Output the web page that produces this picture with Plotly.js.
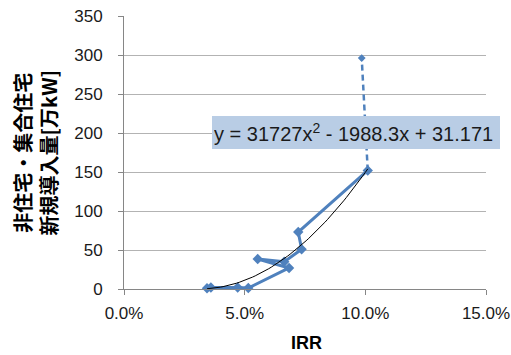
<!DOCTYPE html>
<html>
<head>
<meta charset="utf-8">
<script src="https://cdn.plot.ly/plotly-3.0.1.min.js"></script>
<style>html,body{margin:0;padding:0;background:#fff;}#chart{width:511px;height:355px;}</style>
</head>
<body>
<div id="chart"></div>
<script>
// IRR (x) and new installed capacity [万kW] (y)
const irr = [0.0344, 0.0360, 0.0471, 0.0515, 0.0684, 0.0554, 0.0664, 0.0736, 0.0722, 0.1010];
const capacity = [1, 2, 2, 1.3, 27, 38.5, 35, 51, 73, 152];
// dashed extension
const irrExt = [0.1010, 0.0985];
const capacityExt = [152, 296];
// trendline coefficients shown on the chart: y = a x^2 + b x + c
const trendCoef = [31727, -1988.3, 31.171];
const trendLabel = 'y = 31727x<sup>2</sup> - 1988.3x + 31.171';
const xTickVals = [0, 0.05, 0.10, 0.15];
const xTickText = ['0.0%', '5.0%', '10.0%', '15.0%'];
const yTickVals = [0, 50, 100, 150, 200, 250, 300, 350];
const yTitle = '非住宅・集合住宅<br>新規導入量[万kW]';
const xTitle = 'IRR';

const xmin = Math.min(...irr), xmax = Math.max(...irr);
const tx = [], ty = [];
const n = 60;
for (let i = 0; i <= n; i++) {
  const x = xmin + (xmax - xmin) * i / n;
  tx.push(x);
  ty.push(trendCoef[0] * x * x + trendCoef[1] * x + trendCoef[2]);
}

const blue = '#4f81bd';
const tickFont = {family: 'Liberation Sans, Arial, sans-serif', size: 17, color: '#1a1a1a'};

const data = [
  {x: irrExt, y: capacityExt, type: 'scatter', mode: 'lines+markers', cliponaxis: false,
   line: {color: blue, width: 2.5, dash: '6px,4px'},
   marker: {symbol: 'diamond', size: 6, color: blue}},
  {x: irr, y: capacity, type: 'scatter', mode: 'lines+markers', cliponaxis: false,
   line: {color: blue, width: 3},
   marker: {symbol: 'diamond', size: 8, color: blue}},
  {x: tx, y: ty, type: 'scatter', mode: 'lines', cliponaxis: false,
   line: {color: '#000', width: 1}}
];

const layout = {
  width: 511, height: 355,
  margin: {l: 124, r: 25, t: 16, b: 66},
  paper_bgcolor: '#fff', plot_bgcolor: '#fff',
  showlegend: false,
  xaxis: {
    range: [0, 0.15], tickvals: xTickVals, ticktext: xTickText,
    showgrid: false, zeroline: false, showline: true, linecolor: '#868686', linewidth: 1,
    ticks: 'outside', ticklen: 5, tickcolor: '#868686', tickfont: tickFont,
    ticklabelstandoff: 4
  },
  yaxis: {
    range: [0, 350], tickvals: yTickVals,
    showgrid: true, gridcolor: '#b3b3b3', gridwidth: 1, zeroline: false,
    showline: true, linecolor: '#868686', linewidth: 1,
    ticks: 'outside', ticklen: 5, tickcolor: '#868686', tickfont: tickFont,
    ticklabelstandoff: 12
  },
  annotations: [
    {text: trendLabel, xref: 'paper', yref: 'paper', x: (211.7 - 124) / 362, y: (289.3 - 132.3) / 273.6,
     xanchor: 'left', yanchor: 'middle', showarrow: false, align: 'left',
     width: 284, height: 29, borderpad: 2, borderwidth: 0, bgcolor: '#b9cde5',
     font: {family: 'Liberation Sans, Arial, sans-serif', size: 20, color: '#1a1a1a'}},
    {text: yTitle, xref: 'paper', yref: 'paper', x: (35 - 124) / 362, y: 0.5,
     xanchor: 'center', yanchor: 'middle', textangle: -90, showarrow: false,
     font: {family: 'Noto Sans CJK JP, sans-serif', size: 20, color: '#000', weight: 'bold'}},
    {text: '<b>' + xTitle + '</b>', xref: 'paper', yref: 'paper', x: (306 - 124) / 362, y: (289.3 - 343.5) / 273.6,
     xanchor: 'center', yanchor: 'middle', showarrow: false,
     font: {family: 'Liberation Sans, Arial, sans-serif', size: 18, color: '#000'}}
  ]
};

Plotly.newPlot('chart', data, layout, {displayModeBar: false, staticPlot: true});
</script>
</body>
</html>
